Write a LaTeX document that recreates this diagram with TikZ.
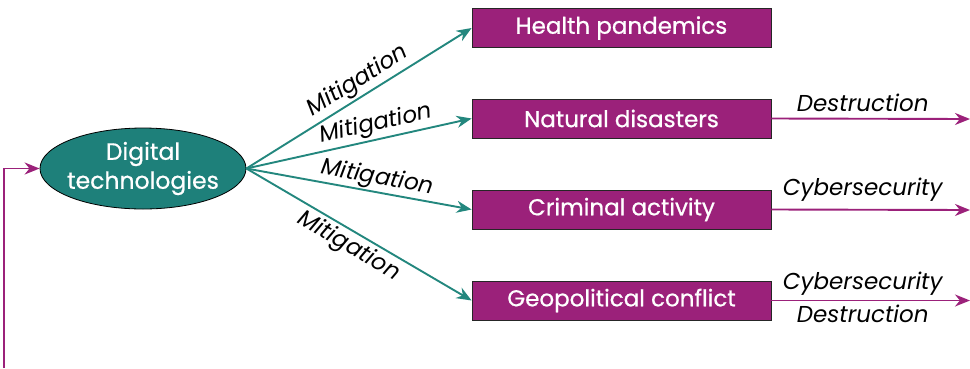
\documentclass[tikz,border=0pt]{standalone}
\usepackage{fontspec}
\setmainfont{Poppins}
\newfontfamily\boxfont{Poppins}[FakeBold=0.7]
\usetikzlibrary{arrows.meta,shapes.geometric}
\definecolor{tealc}{RGB}{30,128,122}
\definecolor{teall}{RGB}{35,135,126}
\definecolor{purp}{RGB}{155,33,122}
\tikzset{
  box/.style={draw=black!85,line width=0.8pt,fill=purp,text=white,minimum width=299pt,minimum height=39pt,inner sep=0pt,font=\boxfont\fontsize{23}{26}\selectfont},
  mit/.style={draw=teall,line width=1.9pt,-{Stealth[length=15pt,width=12pt]}},
  outarr/.style={draw=purp,line width=1.9pt,-{Stealth[length=15pt,width=12pt]}},
  lab/.style={font=\fontsize{23}{25}\selectfont\itshape,inner sep=0pt,text=black}
}
\begin{document}
\begin{tikzpicture}[x=1pt,y=-1pt]
\useasboundingbox (0,0) rectangle (970,368);
\node[ellipse,draw=black,line width=0.8pt,fill=tealc,text=white,minimum width=206pt,minimum height=81pt,inner xsep=-8pt,inner ysep=0pt,align=center,font=\boxfont\fontsize{23.5}{29}\selectfont] (dt) at (143,168.5) {Digital\\technologies};
\node[box] (hp) at (621.5,28) {Health pandemics};
\node[box] (nd) at (621.5,118.5) {Natural disasters};
\node[box] (ca) at (621.5,209.5) {Criminal activity};
\node[box] (gc) at (621.5,300.5) {Geopolitical conflict};
\coordinate (e1) at (970,119);
\coordinate (e2) at (970,210);
\coordinate (e3) at (970,300.5);
\coordinate (st) at (4,368);
\draw[mit] (dt.east) -- node[lab,pos=0.53,sloped,above=2pt] {Mitigation} (hp.west);
\draw[mit] (dt.east) -- node[lab,pos=0.59,sloped,above=2pt] {Mitigation} (nd.west);
\draw[mit] (dt.east) -- node[lab,pos=0.57,sloped,above=1pt] {Mitigation} (ca.west);
\draw[mit] (dt.east) -- node[lab,pos=0.49,sloped,below=3pt] {Mitigation} (gc.west);
\draw[outarr] (nd.east) -- node[lab,above=6pt,pos=0.46] {Destruction} (e1);
\draw[outarr] (ca.east) -- node[lab,above=7pt,pos=0.46] {Cybersecurity} (e2);
\draw[outarr] (gc.east) -- node[lab,above=4pt,pos=0.46] {Cybersecurity} node[lab,below=4pt,pos=0.46] {Destruction} (e3);
\draw[outarr] (st) |- (dt.west);
\end{tikzpicture}
\end{document}
